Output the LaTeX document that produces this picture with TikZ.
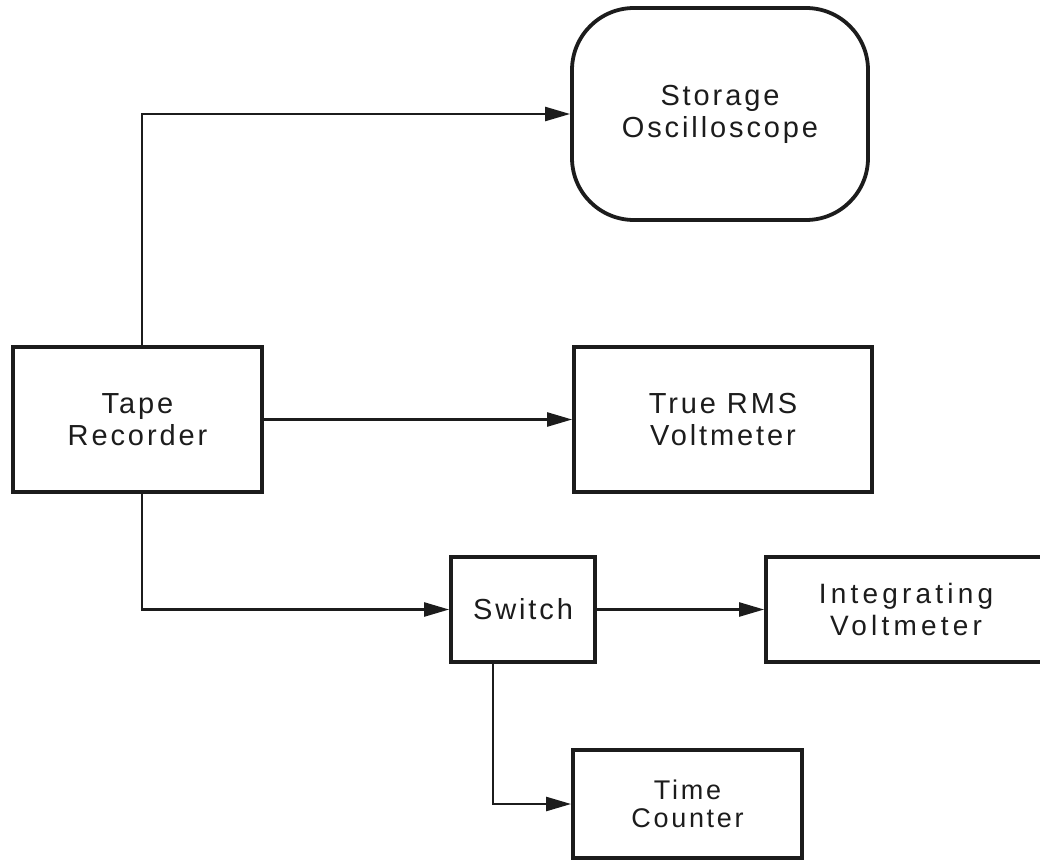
\documentclass[tikz,border=0pt]{standalone}
\usepackage{fontspec}
\setmainfont{Liberation Sans}[LetterSpace=10]
\newfontfamily\widefont{Liberation Sans}[LetterSpace=15]
\usetikzlibrary{arrows.meta}
\definecolor{ink}{HTML}{1C1C1C}
\tikzset{
  blk/.style={draw=ink, line width=3.8pt, rectangle, inner sep=0pt, align=center,
    text=ink, font=\fontsize{29}{32}\selectfont},
  conn/.style={draw=ink, line width=2.4pt, -{Triangle[length=25pt,width=14pt]}}
}
\begin{document}
\begin{tikzpicture}[x=1pt, y=-1pt]
  \useasboundingbox (0,0) rectangle (1040,861);
  \fill[white] (0,0) rectangle (1040,861);
  \clip (0,0) rectangle (1040,861);

  % blocks
  \node[blk, rounded corners=62pt, minimum width=296pt, minimum height=212pt]
    (osc) at (720,114) {Storage\\Oscilloscope};
  \node[blk, minimum width=249pt, minimum height=145pt]
    (tape) at (137.5,419.5) {Tape\\Recorder};
  \node[blk, minimum width=298pt, minimum height=145pt]
    (rms) at (723,419.5) {True RMS\\Voltmeter};
  \node[blk, minimum width=144pt, minimum height=105pt]
    (switch) at (523,609.5) {Switch};
  \node[blk, minimum width=280pt, minimum height=105pt, font=\widefont\fontsize{28}{32}\selectfont]
    (integ) at (906,609.5) {Integrating\\Voltmeter};
  \node[blk, minimum width=229pt, minimum height=108pt, font=\fontsize{27}{28}\selectfont]
    (timec) at (687.5,804) {Time\\Counter};

  % signal paths
  \draw[conn] ([xshift=4.5pt]tape.north) |- (osc.west);
  \draw[conn] (tape.east) -- (rms.west);
  \draw[conn] ([xshift=4.5pt]tape.south) |- (switch.west);
  \draw[conn] (switch.east) -- (integ.west);
  \draw[conn] ([xshift=-30pt]switch.south) |- (timec.west);
\end{tikzpicture}
\end{document}
